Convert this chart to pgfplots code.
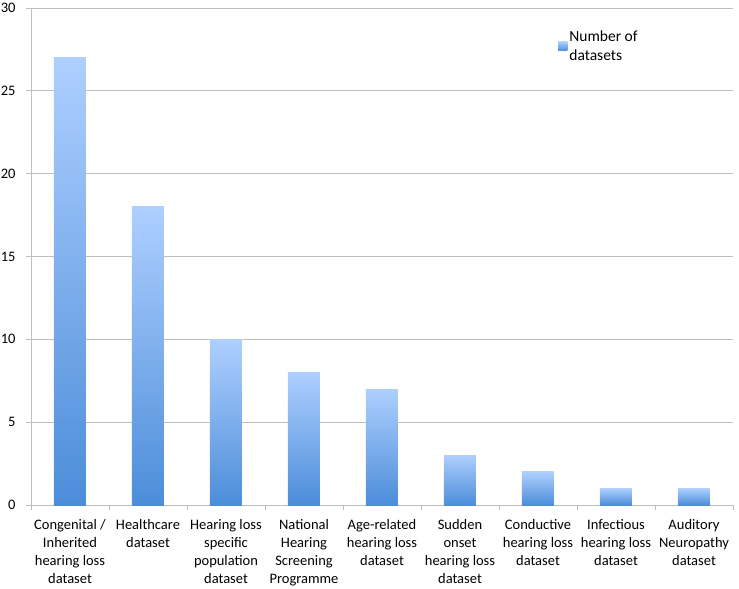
\documentclass[border=0pt]{standalone}
\usepackage{fontspec}
\setmainfont{Carlito}
\usepackage{pgfplots}
\pgfplotsset{compat=1.18}
\definecolor{bartop}{HTML}{AECFFF}
\definecolor{barbot}{HTML}{4C8DD9}
\definecolor{gridc}{HTML}{BEBEBE}
\pgfplotsset{mybar/.style={ybar, bar width=32bp, bar shift=0pt, draw=none, shade, top color=bartop, bottom color=barbot, mark=none}}
\begin{document}
\begin{tikzpicture}
\useasboundingbox (-31bp,-84bp) rectangle (708bp,505bp);
\begin{axis}[
  scale only axis,
  width=702bp, height=497bp,
  xmin=-0.5, xmax=8.5, ymin=0, ymax=30,
  ytick={0,5,...,30},
  axis lines=left,
  axis line style={-, draw=gridc, line width=0.8pt},
  ymajorgrids, grid style={gridc, line width=0.8pt},
  tick style={gridc, line width=0.8pt},
  tick align=outside, major tick length=5bp,
  xtick={-0.5,0.5,...,8.5},
  xticklabels={},
  extra x ticks={0,1,2,3,4,5,6,7,8},
  extra x tick labels={{Congenital /\\Inherited\\hearing loss\\dataset},
    {Healthcare\\dataset},
    {Hearing loss\\specific\\population\\dataset},
    {National\\Hearing\\Screening\\Programme},
    {Age-related\\hearing loss\\dataset},
    {Sudden\\onset\\hearing loss\\dataset},
    {Conductive\\hearing loss\\dataset},
    {Infectious\\hearing loss\\dataset},
    {Auditory\\Neuropathy\\dataset}},
  extra x tick style={major tick length=0pt, grid=none},
  xticklabel style={align=center, font=\fontsize{14.5bp}{18bp}\selectfont, anchor=north, yshift=-11bp},
  yticklabel style={font=\fontsize{14.5bp}{18bp}\selectfont, xshift=-7bp},
  /pgf/number format/assume math mode=true,
  legend style={at={(0.751,0.958)}, anchor=north west, draw=none, fill=none,
    font=\fontsize{15.5bp}{19bp}\selectfont, cells={align=left}, inner sep=0pt},
  legend image code/.code={\fill[barbot!60!bartop] (0bp,-4bp) rectangle (9bp,5bp);},
  clip=false,
]
\addplot[mybar] coordinates {(0,27)};
\addlegendentry{Number of\\datasets}
\addplot[mybar, forget plot] coordinates {(1,18)};
\addplot[mybar, forget plot] coordinates {(2,10)};
\addplot[mybar, forget plot] coordinates {(3,8)};
\addplot[mybar, forget plot] coordinates {(4,7)};
\addplot[mybar, forget plot] coordinates {(5,3)};
\addplot[mybar, forget plot] coordinates {(6,2)};
\addplot[mybar, forget plot] coordinates {(7,1)};
\addplot[mybar, forget plot] coordinates {(8,1)};
\end{axis}
\end{tikzpicture}
\end{document}
